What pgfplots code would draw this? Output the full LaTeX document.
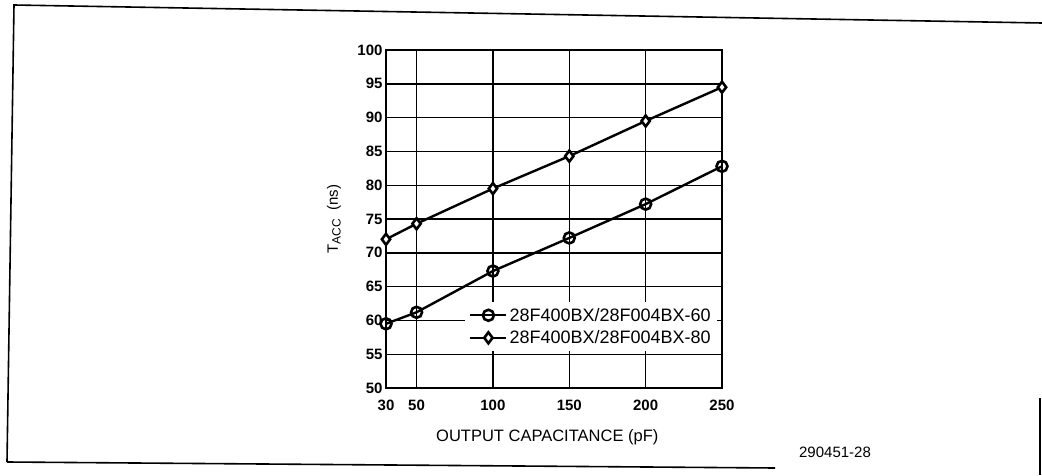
\documentclass[border=0pt]{standalone}
\usepackage{pgfplots}
\pgfplotsset{compat=1.18}
\usepackage{fontspec}
\setmainfont{Liberation Sans}
\begin{document}
\begin{tikzpicture}
\useasboundingbox (0pt,0pt) rectangle (1042pt,475pt);
% frame (scanned page border)
\draw[line width=1.6pt] (7pt,13pt) -- (14pt,470pt) -- (1042pt,452pt);
\draw[line width=1.6pt] (7pt,13pt) -- (775pt,7pt);
\draw[line width=1.6pt] (1040pt,0pt) -- (1040pt,77pt);
\begin{axis}[
  at={(386pt,87pt)}, anchor=south west,
  scale only axis, width=336pt, height=338pt,
  xmin=30, xmax=250, ymin=50, ymax=100,
  xtick={30,50,100,150,200,250},
  ytick={50,55,...,100},
  grid=major,
  major grid style={black, line width=1.4pt},
  axis line style={line width=1.8pt},
  tick style={draw=none},
  /pgf/number format/assume math mode=true,
  ticklabel style={font=\fontsize{15}{15}\selectfont\bfseries},
  xticklabel style={yshift=-8pt},
  yticklabel style={xshift=0pt},
  xlabel={OUTPUT CAPACITANCE (pF)},
  xlabel style={font=\fontsize{16.5}{16.5}\selectfont, at={(axis description cs:0.48,-0.145)}, anchor=center},
  ylabel={T\raisebox{-0.35ex}{\fontsize{12}{12}\selectfont ACC}\ \ (ns)},
  ylabel style={font=\fontsize{15}{15}\selectfont, at={(axis description cs:-0.155,0.5)}, anchor=center},
  legend style={at={(axis description cs:0.985,0.255)}, anchor=north east,
    draw=none, fill=white, font=\fontsize{18}{18}\selectfont,
    row sep=4pt, inner sep=4pt},
  legend cell align=left,
  legend image code/.code={\draw[mark repeat=2,mark phase=2] plot coordinates {(0pt,0pt) (18pt,0pt) (36pt,0pt)};},
]
\addplot[black, line width=2.4pt, mark=o, mark size=5.5pt, mark options={line width=2.6pt, fill=white}]
  coordinates {(30,59.5) (50,61.2) (100,67.3) (150,72.2) (200,77.2) (250,82.8)};
\addlegendentry{28F400BX/28F004BX-60}
\addplot[black, line width=2.4pt, mark=diamond*, mark size=5.5pt, mark options={line width=2.6pt, fill=white}]
  coordinates {(30,72) (50,74.3) (100,79.5) (150,84.3) (200,89.5) (250,94.5)};
\addlegendentry{28F400BX/28F004BX-80}
\end{axis}
\node[font=\fontsize{15}{15}\selectfont] at (835pt,23pt) {290451-28};
\end{tikzpicture}
\end{document}
